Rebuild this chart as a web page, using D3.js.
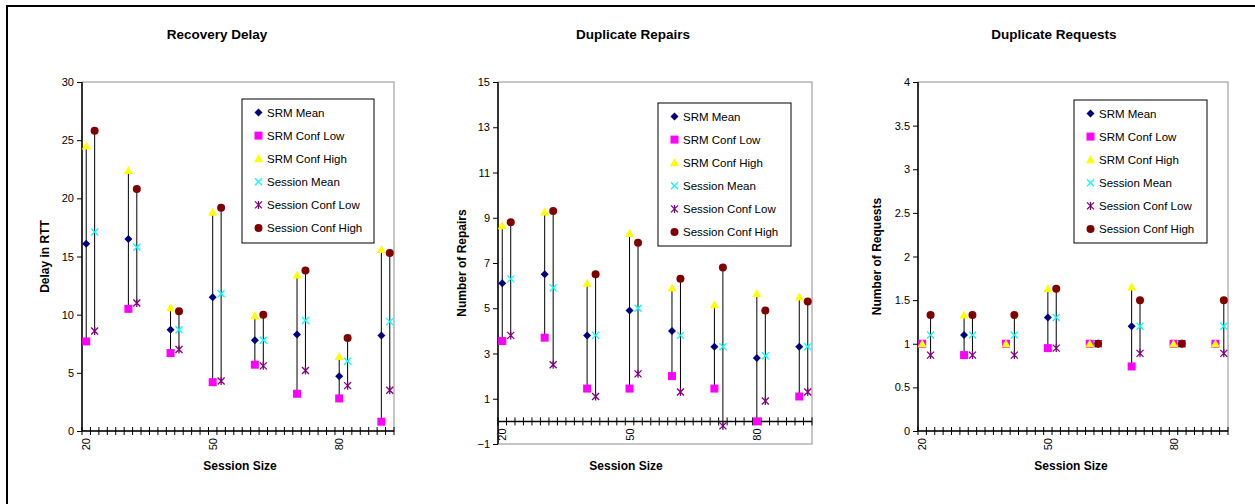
<!DOCTYPE html>
<html><head><meta charset="utf-8">
<script src="https://cdn.jsdelivr.net/npm/d3@7"></script>
<style>body{margin:0;background:#fff;} svg{display:block;font-family:"Liberation Sans",Arial,sans-serif;}</style>
</head><body><svg id="c" width="1255" height="504"></svg>
<script>
// ---- data ----
const srmSizes = [20, 30, 40, 50, 60, 70, 80, 90];
const sessionSizes = [22, 32, 42, 52, 62, 72, 82, 92];
const xCategories = d3.range(20, 93, 2);
const xTickLabels = [20, 50, 80];
const seriesNames = ["SRM Mean", "SRM Conf Low", "SRM Conf High", "Session Mean", "Session Conf Low", "Session Conf High"];

const delaySrmMean = [16.1, 16.5, 8.7, 11.5, 7.8, 8.3, 4.7, 8.2];
const delaySrmLow = [7.7, 10.5, 6.7, 4.2, 5.7, 3.2, 2.8, 0.8];
const delaySrmHigh = [24.5, 22.4, 10.6, 18.8, 9.9, 13.4, 6.4, 15.6];
const delaySessMean = [17.1, 15.8, 8.7, 11.8, 7.8, 9.5, 6.0, 9.4];
const delaySessLow = [8.6, 11.0, 7.0, 4.3, 5.6, 5.2, 3.9, 3.5];
const delaySessHigh = [25.8, 20.8, 10.3, 19.2, 10.0, 13.8, 8.0, 15.3];

const repSrmMean = [6.1, 6.5, 3.8, 4.9, 4.0, 3.3, 2.8, 3.3];
const repSrmLow = [3.55, 3.7, 1.45, 1.45, 2.0, 1.45, 0.0, 1.1];
const repSrmHigh = [8.65, 9.25, 6.1, 8.3, 5.9, 5.15, 5.65, 5.5];
const repSessMean = [6.3, 5.9, 3.8, 5.0, 3.8, 3.3, 2.9, 3.3];
const repSessLow = [3.8, 2.5, 1.1, 2.1, 1.3, -0.2, 0.9, 1.3];
const repSessHigh = [8.8, 9.3, 6.5, 7.9, 6.3, 6.8, 4.9, 5.3];

const reqSrmMean = [1.0, 1.1, 1.0, 1.3, 1.0, 1.2, 1.0, 1.0];
const reqSrmLow = [1.0, 0.87, 1.0, 0.95, 1.0, 0.74, 1.0, 1.0];
const reqSrmHigh = [1.0, 1.33, 1.0, 1.63, 1.0, 1.65, 1.0, 1.0];
const reqSessMean = [1.1, 1.1, 1.1, 1.3, 1.0, 1.2, 1.0, 1.2];
const reqSessLow = [0.87, 0.87, 0.87, 0.95, 1.0, 0.89, 1.0, 0.89];
const reqSessHigh = [1.33, 1.33, 1.33, 1.63, 1.0, 1.5, 1.0, 1.5];

const delayTicks = [0, 5, 10, 15, 20, 25, 30];
const repTicks = [-1, 1, 3, 5, 7, 9, 11, 13, 15];
const reqTicks = [0, 0.5, 1, 1.5, 2, 2.5, 3, 3.5, 4];

// ---- drawing ----
const svg = d3.select("#c");
const colors = ["#000080", "#ff00ff", "#ffff00", "#00ffff", "#800080", "#800000"];

// outer frame
svg.append("line").attr("x1", 7).attr("x2", 1255).attr("y1", 6).attr("y2", 6).attr("stroke", "#000").attr("stroke-width", 2);
svg.append("line").attr("x1", 7).attr("x2", 7).attr("y1", 5).attr("y2", 504).attr("stroke", "#000").attr("stroke-width", 2);

function marker(g, type, x, y) {
  const c = colors[type];
  if (type === 0) {
    g.append("path").attr("d", `M${x},${y-4}L${x+4},${y}L${x},${y+4}L${x-4},${y}Z`).attr("fill", c);
  } else if (type === 1) {
    g.append("rect").attr("x", x-4).attr("y", y-4).attr("width", 8).attr("height", 8).attr("fill", c);
  } else if (type === 2) {
    g.append("path").attr("d", `M${x},${y-4.5}L${x+4.5},${y+3.5}L${x-4.5},${y+3.5}Z`).attr("fill", c);
  } else if (type === 3) {
    g.append("path").attr("d", `M${x-3.5},${y-3.5}L${x+3.5},${y+3.5}M${x+3.5},${y-3.5}L${x-3.5},${y+3.5}`).attr("stroke", c).attr("stroke-width", 1.3);
  } else if (type === 4) {
    g.append("path").attr("d", `M${x-3.5},${y-3.5}L${x+3.5},${y+3.5}M${x+3.5},${y-3.5}L${x-3.5},${y+3.5}M${x},${y-4}L${x},${y+4}`).attr("stroke", c).attr("stroke-width", 1.3);
  } else {
    g.append("circle").attr("cx", x).attr("cy", y).attr("r", 4).attr("fill", c);
  }
}

function panel(cfg) {
  const g = svg.append("g");
  const xb = d3.scaleBand().domain(xCategories).range([cfg.left, cfg.right]).paddingInner(0).paddingOuter(0);
  const bw = xb.bandwidth();
  const x = d => xb(d) + bw / 2;
  const y = d3.scaleLinear().domain(cfg.yDomain).range([cfg.bottom, cfg.top]);

  // plot border (grey)
  g.append("rect").attr("x", cfg.left).attr("y", cfg.top).attr("width", cfg.right - cfg.left).attr("height", cfg.bottom - cfg.top)
    .attr("fill", "none").attr("stroke", "#a8a8a8").attr("stroke-width", 1.3);

  // y axis
  const yAx = g.append("g").attr("transform", `translate(${cfg.left},0)`)
    .call(d3.axisLeft(y).tickValues(cfg.yTicks).tickSize(5).tickPadding(3).tickFormat(d3.format("")));
  yAx.select(".domain").attr("stroke", "#000").attr("stroke-width", 1.5).attr("d", `M0,${cfg.top}V${cfg.bottom}`);
  yAx.selectAll("text").attr("font-size", 11).attr("fill", "#000").attr("font-family", "Liberation Sans, Arial, sans-serif");

  // x axis at y=0 (category axis, ticks between categories)
  const y0 = y(0);
  const tickPos = xCategories.map(d => xb(d)).concat([cfg.right]);
  const xg = g.append("g");
  xg.append("line").attr("x1", cfg.left).attr("x2", cfg.right).attr("y1", y0).attr("y2", y0).attr("stroke", "#000").attr("stroke-width", 1.5);
  xg.selectAll("line.t").data(tickPos).join("line").attr("class", "t")
    .attr("x1", d => d).attr("x2", d => d).attr("y1", y0 - 4).attr("y2", y0 + 4).attr("stroke", "#000").attr("stroke-width", 1);
  xg.selectAll("text").data(xTickLabels).join("text")
    .attr("transform", d => `translate(${x(d) + 4},${y0 + 7}) rotate(-90)`)
    .attr("text-anchor", "end").attr("font-size", 11).text(d => d);

  // range lines
  const series = cfg.data;
  srmSizes.forEach((s, i) => {
    g.append("line").attr("x1", x(s)).attr("x2", x(s)).attr("y1", y(series[1][i])).attr("y2", y(series[2][i])).attr("stroke", "#000").attr("stroke-width", 1);
  });
  sessionSizes.forEach((s, i) => {
    g.append("line").attr("x1", x(s)).attr("x2", x(s)).attr("y1", y(series[4][i])).attr("y2", y(series[5][i])).attr("stroke", "#000").attr("stroke-width", 1);
  });
  // markers
  series.forEach((arr, k) => {
    const xs = k < 3 ? srmSizes : sessionSizes;
    arr.forEach((v, i) => marker(g, k, x(xs[i]), y(v)));
  });

  // legend
  const L = cfg.legend;
  g.append("rect").attr("x", L.x).attr("y", L.y).attr("width", L.w).attr("height", L.h).attr("fill", "#fff").attr("stroke", "#000").attr("stroke-width", 1);
  seriesNames.forEach((n, k) => {
    const yy = L.y + 13.5 + k * 23.1;
    marker(g, k, L.x + 16.5, yy);
    g.append("text").attr("x", L.x + 25).attr("y", yy + 4).attr("font-size", 11.5).text(n);
  });

  // titles
  g.append("text").attr("x", cfg.titleX).attr("y", 39).attr("text-anchor", "middle").attr("font-size", 13.5).attr("font-weight", "bold").text(cfg.title);
  g.append("text").attr("x", cfg.xlabelX).attr("y", 470).attr("text-anchor", "middle").attr("font-size", 12).attr("font-weight", "bold").text("Session Size");
  g.append("text").attr("transform", `translate(${cfg.ylabelX},${(cfg.top + cfg.bottom) / 2}) rotate(-90)`).attr("text-anchor", "middle")
    .attr("font-size", 12).attr("font-weight", "bold").text(cfg.ylabel);
}

panel({left: 82, right: 394, top: 82, bottom: 431, yDomain: [0, 30], yTicks: delayTicks,
  data: [delaySrmMean, delaySrmLow, delaySrmHigh, delaySessMean, delaySessLow, delaySessHigh],
  title: "Recovery Delay", ylabel: "Delay in RTT", titleX: 217, xlabelX: 240, ylabelX: 49,
  legend: {x: 242, y: 99, w: 132, h: 144}});
panel({left: 498, right: 812, top: 82, bottom: 444, yDomain: [-1, 15], yTicks: repTicks,
  data: [repSrmMean, repSrmLow, repSrmHigh, repSessMean, repSessLow, repSessHigh],
  title: "Duplicate Repairs", ylabel: "Number of Repairs", titleX: 633, xlabelX: 626, ylabelX: 466,
  legend: {x: 658, y: 103, w: 133, h: 143}});
panel({left: 918, right: 1228, top: 82, bottom: 431, yDomain: [0, 4], yTicks: reqTicks,
  data: [reqSrmMean, reqSrmLow, reqSrmHigh, reqSessMean, reqSessLow, reqSessHigh],
  title: "Duplicate Requests", ylabel: "Number of Requests", titleX: 1054, xlabelX: 1071, ylabelX: 881,
  legend: {x: 1074, y: 100, w: 133, h: 143}});
</script></body></html>
